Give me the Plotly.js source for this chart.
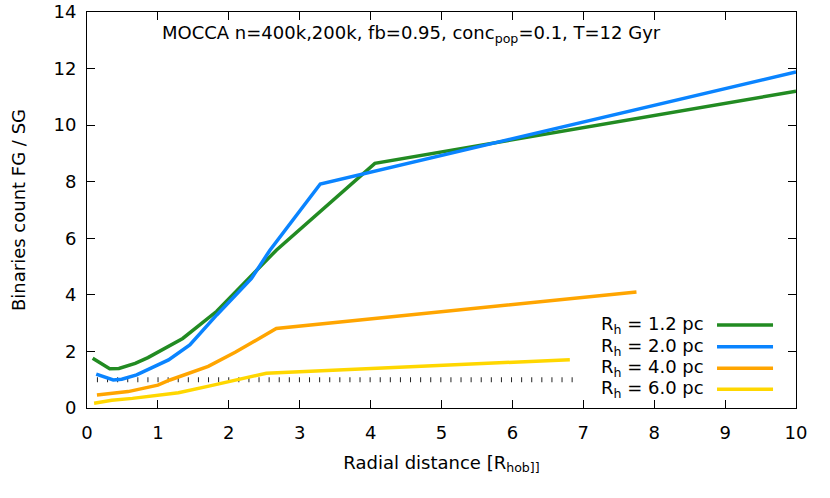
<!DOCTYPE html>
<html>
<head>
<meta charset="utf-8">
<script src="https://cdn.plot.ly/plotly-3.0.1.min.js"></script>
<style>
  body { margin: 0; background: #fff; }
  #chart { width: 830px; height: 498px; }
</style>
</head>
<body>
<div id="chart"></div>
<script>
// radial distance [R_hob] vs FG/SG binaries count ratio, one series per R_h
const xRh12 = [0.08, 0.32, 0.45, 0.68, 0.86, 1.08, 1.35, 1.83, 2.67, 4.06, 10];
const yRh12 = [1.76, 1.39, 1.40, 1.58, 1.78, 2.07, 2.46, 3.42, 5.58, 8.65, 11.2];

const xRh20 = [0.13, 0.37, 0.49, 0.70, 0.91, 1.15, 1.45, 1.83, 2.32, 2.58, 3.29, 10];
const yRh20 = [1.20, 0.99, 1.02, 1.17, 1.42, 1.70, 2.23, 3.29, 4.58, 5.58, 7.92, 11.88];

const xRh40 = [0.14, 0.37, 0.58, 1.00, 1.17, 1.71, 2.09, 2.67, 7.75];
const yRh40 = [0.46, 0.52, 0.58, 0.81, 0.99, 1.47, 1.97, 2.81, 4.10];

const xRh60 = [0.10, 0.35, 0.64, 0.96, 1.29, 1.75, 2.09, 2.53, 6.81];
const yRh60 = [0.17, 0.27, 0.34, 0.45, 0.54, 0.79, 0.98, 1.23, 1.71];

// ratio = 1 reference
const xRef = [0.14, 6.87];
const yRef = [1, 1];

const names = ['R<sub>h</sub> = 1.2 pc', 'R<sub>h</sub> = 2.0 pc', 'R<sub>h</sub> = 4.0 pc', 'R<sub>h</sub> = 6.0 pc'];
const colors = ['#228b22', '#0a84ff', '#ffa500', '#ffd700'];
const xs = [xRh12, xRh20, xRh40, xRh60];
const ys = [yRh12, yRh20, yRh40, yRh60];

const font = {family: 'DejaVu Sans', size: 18, color: '#000'};

const data = [{
  x: xRef, y: yRef, mode: 'lines', showlegend: false, hoverinfo: 'skip',
  line: {color: '#222', width: 5, dash: '1px,9.1px'}
}];
for (let i = 0; i < xs.length; i++) {
  data.push({x: xs[i], y: ys[i], mode: 'lines', name: names[i],
    line: {color: colors[i], width: 3.5}});
}

// gnuplot-like legend: text on the left, sample line on the right
const legendY = [0.2096, 0.1548, 0.1002, 0.0472];
const annotations = [{
  text: 'MOCCA n=400k,200k, fb=0.95, conc<sub>pop</sub>=0.1, T=12 Gyr',
  xref: 'paper', yref: 'paper', x: 0.457, y: 0.944, showarrow: false,
  font: font, xanchor: 'center', yanchor: 'middle'
}];
const shapes = [];
names.forEach((n, i) => {
  annotations.push({text: n, xref: 'paper', yref: 'paper', x: 0.873, y: legendY[i],
    showarrow: false, xanchor: 'right', yanchor: 'middle', font: font});
  shapes.push({type: 'line', xref: 'paper', yref: 'paper', x0: 0.8886, x1: 0.9676,
    y0: legendY[i], y1: legendY[i], line: {color: colors[i], width: 3.5}});
});

const axis = {
  showgrid: false, zeroline: false, showline: true, linecolor: '#000', linewidth: 1,
  mirror: 'ticks', ticks: 'inside', ticklen: 8, tickcolor: '#000', tickfont: font
};

const layout = {
  width: 830, height: 498,
  margin: {l: 87, r: 34, t: 12, b: 90},
  paper_bgcolor: '#fff', plot_bgcolor: '#fff',
  showlegend: false,
  font: font,
  xaxis: Object.assign({}, axis, {range: [0, 10], dtick: 1, tick0: 0, ticklabelstandoff: 8,
    title: {text: 'Radial distance [R<sub>hob]]</sub>', font: font, standoff: 14}}),
  yaxis: Object.assign({}, axis, {range: [0, 14], dtick: 2, tick0: 0, ticklabelstandoff: 6,
    title: {text: 'Binaries count FG / SG', font: font, standoff: 23}}),
  annotations: annotations,
  shapes: shapes
};

Plotly.newPlot('chart', data, layout, {staticPlot: true});
</script>
</body>
</html>
